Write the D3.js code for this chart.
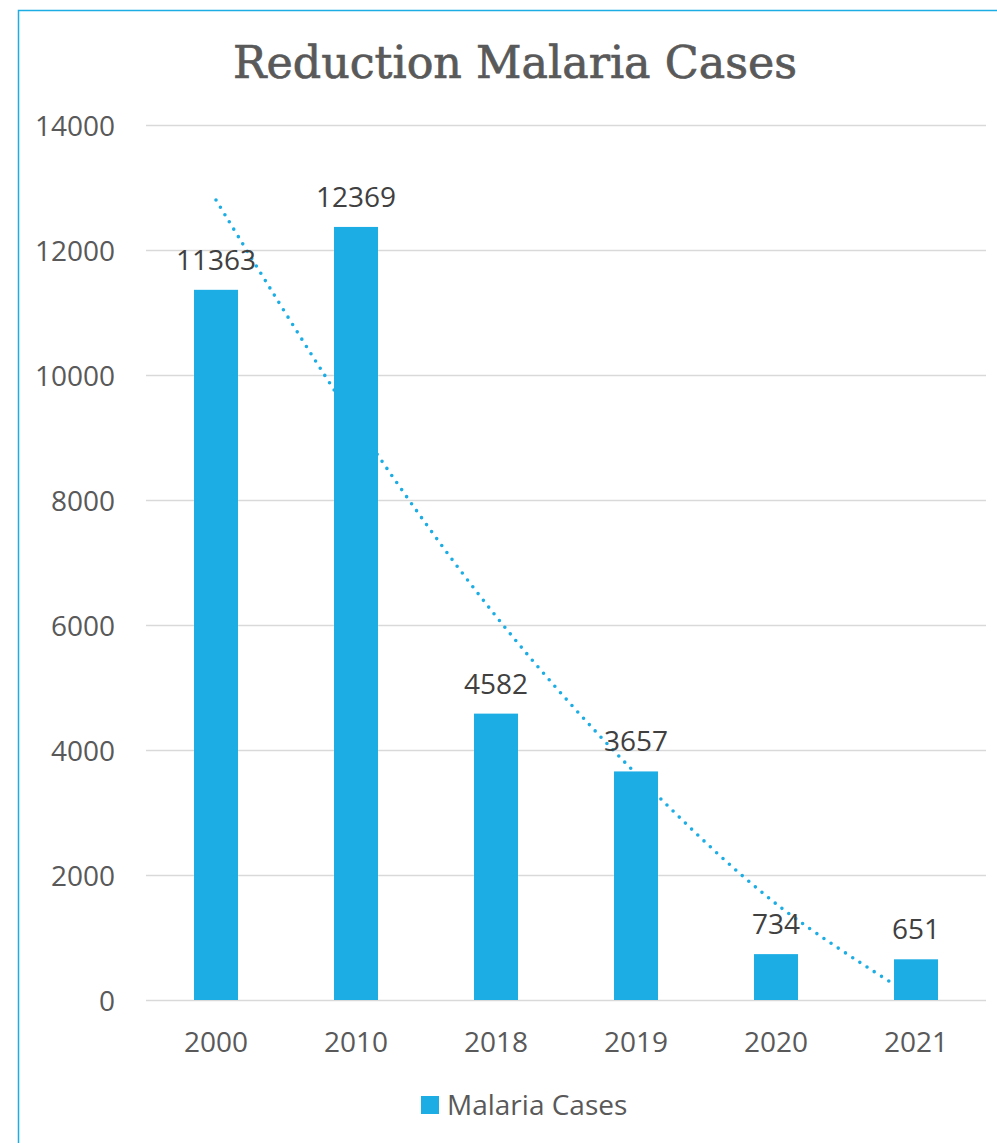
<!DOCTYPE html>
<html>
<head>
<meta charset="utf-8">
<script src="https://cdn.jsdelivr.net/npm/d3@7"></script>
<style>
  body { margin: 0; background: #fff; }
  svg { display: block; }
  .tick text { fill: #595959; font-family: "Open Sans", sans-serif; font-size: 28px; }
  .grid line { stroke: #d9d9d9; stroke-width: 1.5; }
  .grid .domain { display: none; }
</style>
</head>
<body>
<div id="chart"></div>
<script>
var years = ["2000", "2010", "2018", "2019", "2020", "2021"];
var cases = [11363, 12369, 4582, 3657, 734, 651];
// dotted trendline at each category
var trend = [12800, 9230, 6140, 3620, 1540, 30];
var yTicks = [0, 2000, 4000, 6000, 8000, 10000, 12000, 14000];

var W = 997, H = 1143;
var margin = {top: 125, right: 11, bottom: 143, left: 146};
var width = W - margin.left - margin.right;
var height = H - margin.top - margin.bottom;
var blue = "#1cade4";

var svg = d3.select("#chart").append("svg")
    .attr("width", W)
    .attr("height", H);

// chart area border (left and top visible)
svg.append("path")
    .attr("d", "M18.5," + H + "V10.5H" + W)
    .attr("fill", "none")
    .attr("stroke", blue)
    .attr("stroke-width", 1.5);

svg.append("text")
    .attr("x", 515)
    .attr("y", 78)
    .attr("text-anchor", "middle")
    .attr("fill", "#595959")
    .attr("stroke", "#595959")
    .attr("stroke-width", 0.7)
    .style("font-family", "'DejaVu Serif', serif")
    .style("font-size", "44px")
    .attr("textLength", 564)
    .attr("lengthAdjust", "spacingAndGlyphs")
    .text("Reduction Malaria Cases");

var g = svg.append("g")
    .attr("transform", "translate(" + margin.left + "," + margin.top + ")");

var x = d3.scaleBand().domain(years).range([0, width])
    .paddingInner(0.686).paddingOuter(0.343);
var y = d3.scaleLinear().domain([0, 14000]).range([height, 0]);

// gridlines
g.append("g")
    .attr("class", "grid")
    .call(d3.axisLeft(y).tickValues(yTicks).tickSize(-width).tickFormat(""));

// y labels
var yAxisG = g.append("g")
    .call(d3.axisLeft(y).tickValues(yTicks).tickSize(0).tickPadding(31).tickFormat(d3.format("d")));
yAxisG.select(".domain").remove();
yAxisG.selectAll(".tick text").attr("dy", "0.36em");

// x labels
var xAxisG = g.append("g")
    .attr("transform", "translate(0," + height + ")")
    .call(d3.axisBottom(x).tickSize(0).tickPadding(32));
xAxisG.select(".domain").remove();

// trendline (behind bars)
var line = d3.line()
    .x(function(d, i) { return x(years[i]) + x.bandwidth() / 2; })
    .y(function(d) { return y(d); })
    .curve(d3.curveCatmullRom);

g.append("path")
    .datum(trend)
    .attr("d", line)
    .attr("fill", "none")
    .attr("stroke", blue)
    .attr("stroke-width", 3.6)
    .attr("stroke-linecap", "round")
    .attr("stroke-dasharray", "0,8.6");

// bars
g.selectAll(".bar")
    .data(cases)
    .enter().append("rect")
    .attr("class", "bar")
    .attr("x", function(d, i) { return x(years[i]); })
    .attr("y", function(d) { return y(d); })
    .attr("width", x.bandwidth())
    .attr("height", function(d) { return height - y(d); })
    .attr("fill", blue);

// data labels
g.selectAll(".lbl")
    .data(cases)
    .enter().append("text")
    .attr("class", "lbl")
    .attr("x", function(d, i) { return x(years[i]) + x.bandwidth() / 2; })
    .attr("y", function(d) { return y(d) - 20; })
    .attr("text-anchor", "middle")
    .attr("fill", "#404040")
    .style("font-family", "'Open Sans', sans-serif")
    .style("font-size", "28px")
    .text(function(d) { return d; });

// legend
var leg = svg.append("g").attr("transform", "translate(421,1096)");
leg.append("rect")
    .attr("width", 18)
    .attr("height", 18)
    .attr("fill", blue);
leg.append("text")
    .attr("x", 26)
    .attr("y", 9)
    .attr("dy", "0.36em")
    .attr("fill", "#595959")
    .style("font-family", "'Open Sans', sans-serif")
    .style("font-size", "28px")
    .text("Malaria Cases");
</script>
</body>
</html>
